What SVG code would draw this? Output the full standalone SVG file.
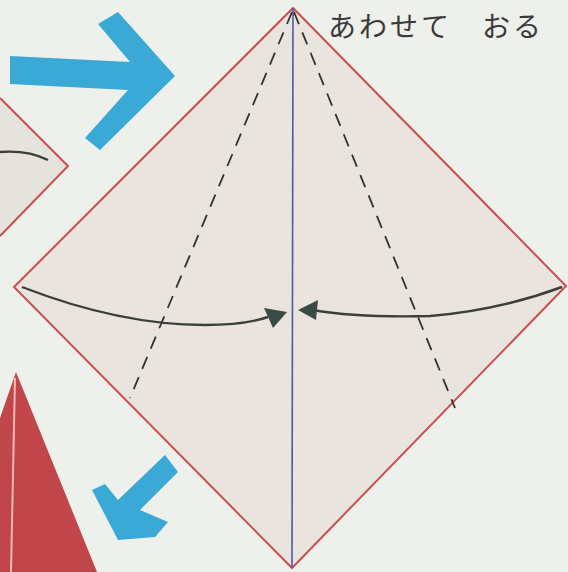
<svg xmlns="http://www.w3.org/2000/svg" width="568" height="572" viewBox="0 0 568 572">
<defs>
<style>
.edge{fill:none;stroke:#c8504f;stroke-width:2}
.dash{fill:none;stroke:#333;stroke-width:1.8;stroke-dasharray:13 9}
.curve{fill:none;stroke:#3a3f3c;stroke-width:2.4}
.head{fill:#3a4a44}
.blue{fill:#3aa9d6}
.txt{font-family:"Noto Sans CJK JP","Liberation Sans",sans-serif;font-size:28px;fill:#3a3a3a;letter-spacing:3px}
</style>
</defs>
<rect width="568" height="572" fill="#eef0eb"/>
<g id="left-paper">
<path d="M0,98 L68,166 L0,236 Z" fill="#e6e2dc"/>
<path class="edge" d="M0,98 L68,166 L0,236"/>
<path class="curve" d="M0,152 Q28,150 48,160" stroke-width="1.8"/>
</g>
<g id="red-paper">
<path d="M16,372 L97,572 L0,572 L0,418 Z" fill="#c1464a"/>
<path d="M15,378 L11,572" stroke="#f2b9b5" stroke-width="2" fill="none"/>
</g>
<g id="arrow-right">
<path class="blue" d="M10,56 L130,62 L98,24 L118,12 L175,76 L100,150 L85,138 L128,90 L10,84 Z"/>
</g>
<g id="arrow-downleft">
<path class="blue" d="M165,455 L178,472 L140,510 L168,522 L155,537 L118,540 L92,490 L105,484 L118,500 Z"/>
</g>
<g id="diamond">
<path d="M293,8 L566,286 L292,568 L14,287 Z" fill="#e9e4dd"/>
<path class="edge" d="M293,8 L566,286 L292,568 L14,287 Z"/>
</g>
<g id="connectors">
<line x1="293" y1="8" x2="292" y2="568" stroke="#4a5aa8" stroke-width="1.6"/>
<line class="dash" x1="292" y1="12" x2="130" y2="398"/>
<line class="dash" x1="294" y1="12" x2="455" y2="408"/>
<path class="curve" d="M22,287 Q120,325 205,325 Q245,325 268,317"/>
<path class="head" d="M264,308 L287,312 L273,328 Z"/>
<path class="curve" d="M562,287 Q500,310 430,316 Q360,318 312,310"/>
<path class="head" d="M298,310 L318,300 L316,320 Z"/>
</g>
<g id="label">
<text class="txt" x="328" y="37">あわせて <tspan x="482">おる</tspan></text>
</g>
</svg>
